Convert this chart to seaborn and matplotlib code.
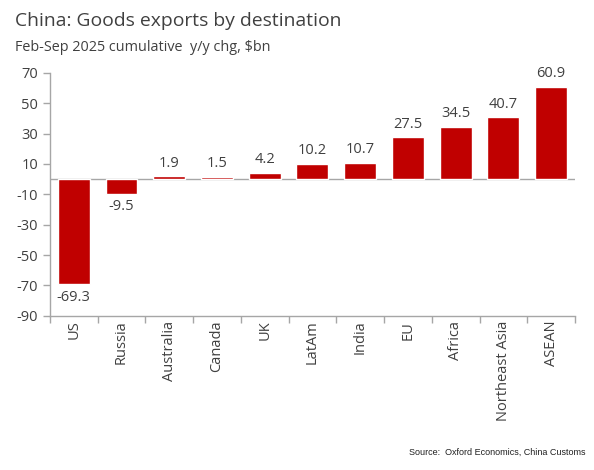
import matplotlib
matplotlib.use("Agg")
import matplotlib.pyplot as plt
import seaborn as sns
import pandas as pd

# data
destinations = ["US", "Russia", "Australia", "Canada", "UK", "LatAm", "India",
                "EU", "Africa", "Northeast Asia", "ASEAN"]
change_bn = [-69.3, -9.5, 1.9, 1.5, 4.2, 10.2, 10.7, 27.5, 34.5, 40.7, 60.9]
y_ticks = [70, 50, 30, 10, -10, -30, -50, -70, -90]

df = pd.DataFrame({"dest": destinations, "chg": change_bn})

sns.set_theme(style="white")
plt.rcParams["font.family"] = ["Open Sans", "DejaVu Sans"]
plt.rcParams["axes.unicode_minus"] = False
txt = "#404040"

fig = plt.figure(figsize=(5.94, 4.70), dpi=100)
ax = fig.add_axes([0.084, 0.328, 0.884, 0.517])

sns.barplot(data=df, x="dest", y="chg", color="#C00000", width=0.67,
            saturation=1, ax=ax)

ax.set_ylim(-90, 70)
ax.set_yticks(y_ticks)
ax.set_xlim(-0.5, len(destinations) - 0.5)
ax.axhline(0, color="#A6A6A6", lw=1, zorder=0.5)

for i, v in enumerate(change_bn):
    off = 4 if v >= 0 else -4
    ax.annotate(f"{v:.1f}", (i, v), xytext=(0, off), textcoords="offset points",
                ha="center", va="bottom" if v >= 0 else "top",
                fontsize=10.5, color=txt)

ax.set_xlabel("")
ax.set_ylabel("")
sns.despine(ax=ax, top=True, right=True)
for s in ["left", "bottom"]:
    ax.spines[s].set_color("#A6A6A6")
    ax.spines[s].set_linewidth(1)
ax.tick_params(axis="both", which="both", length=5, width=1, color="#A6A6A6",
               labelcolor=txt, labelsize=10.5, direction="out",
               left=True, bottom=True)
ax.tick_params(axis="x", rotation=90)
# ticks between categories on the x axis
ax.set_xticks([i + 0.5 for i in range(-1, len(destinations))], minor=True)
ax.tick_params(axis="x", which="major", length=0)
ax.tick_params(axis="x", which="minor", length=5)

fig.text(0.025, 0.955, "China: Goods exports by destination", fontsize=13.9,
         color=txt, va="center")
fig.text(0.025, 0.898, "Feb-Sep 2025 cumulative  y/y chg, $bn", fontsize=10.4,
         color=txt, va="center")
fig.text(0.985, 0.038, "Source:  Oxford Economics, China Customs",
         fontsize=6.5, family="Liberation Sans", color="#202020",
         ha="right", va="center")

fig.savefig("out.png", dpi=100)
